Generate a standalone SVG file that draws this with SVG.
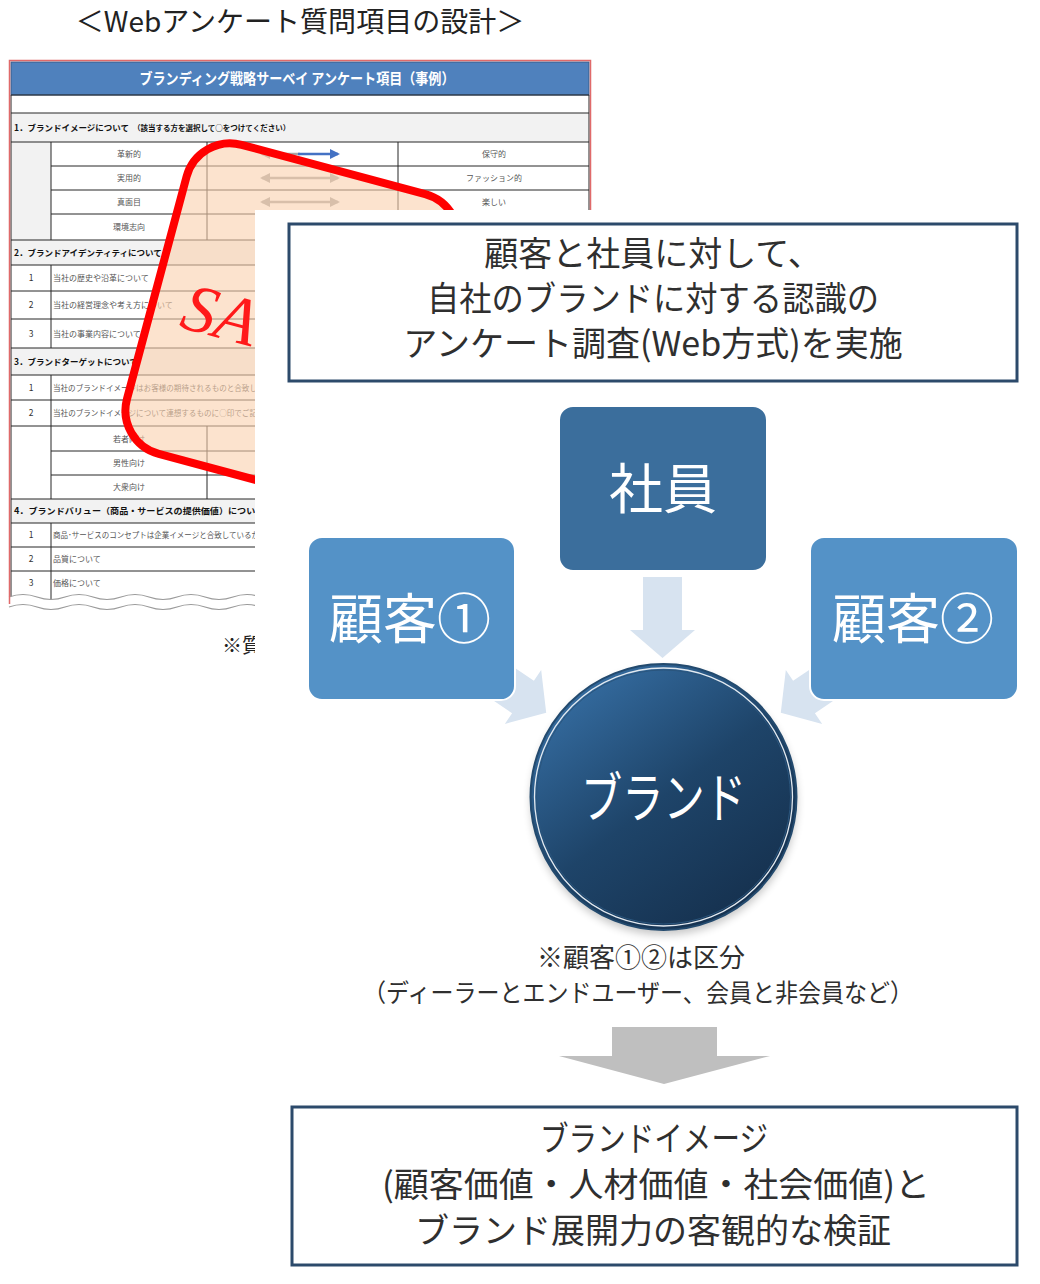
<svg xmlns="http://www.w3.org/2000/svg" width="1040" height="1284" viewBox="0 0 1040 1284">
<defs>
<style>
.jp{font-family:'Noto Sans CJK JP','Noto Sans CJK SC',sans-serif}
.tl{stroke:#262626;stroke-width:1;fill:none}
.sec{fill:#F2F2F2}
.sh{font-size:8.5px;font-weight:bold;fill:#111}
.it{font-size:8px;fill:#555}
.num{font-size:8.5px;fill:#333;text-anchor:middle}
.lbl{font-size:8px;fill:#555;text-anchor:middle}
.box{fill:#fff;stroke:#2C4A6B;stroke-width:3}
.bt{font-size:34px;fill:#2f2f2f;text-anchor:middle}
.nt{font-size:54px;fill:#fff;text-anchor:middle}
.la{fill:#D7E3F0}
</style>
<marker id="hg" viewBox="0 0 10 10" refX="8" refY="5" markerWidth="4" markerHeight="4" orient="auto-start-reverse"><path d="M0,0 L10,5 L0,10 z" fill="#A6A6A6"/></marker>
<marker id="hb" viewBox="0 0 10 10" refX="8" refY="5" markerWidth="4" markerHeight="4" orient="auto-start-reverse"><path d="M0,0 L10,5 L0,10 z" fill="#4472C4"/></marker>
<linearGradient id="cg" x1="0.2" y1="0.1" x2="0.8" y2="0.9">
<stop offset="0" stop-color="#33699C"/>
<stop offset="0.5" stop-color="#1E4469"/>
<stop offset="1" stop-color="#163250"/>
</linearGradient>
<filter id="blur" x="-20%" y="-20%" width="140%" height="140%"><feGaussianBlur stdDeviation="4"/></filter>
<polygon id="la" points="-53,-19.5 0,-19.5 0,-32.5 28,0 0,32.5 0,19.5 -53,19.5"/>
</defs>

<text class="jp" x="300" y="32" font-size="28" fill="#222" text-anchor="middle">＜Webアンケート質問項目の設計＞</text>

<g id="survey-sample">
<rect x="9" y="60" width="582" height="548" fill="#fff"/>
<rect x="11" y="62" width="578" height="33" fill="#4F81BD" stroke="#385D8A" stroke-width="1"/>
<text class="jp" x="297" y="84" font-size="15" font-weight="bold" fill="#fff" text-anchor="middle" textLength="315" lengthAdjust="spacingAndGlyphs">ブランディング戦略サーベイ アンケート項目（事例）</text>
<rect class="sec" x="11" y="113" width="578" height="29"/>
<rect class="sec" x="11" y="142" width="40" height="98"/>
<rect class="sec" x="11" y="240" width="578" height="25"/>
<rect class="sec" x="11" y="348" width="578" height="27"/>
<rect class="sec" x="11" y="499" width="578" height="24"/>
<path class="tl" d="M11 95H589 M11 113H589 M11 142H589 M51 166H589 M51 190H589 M51 214H589 M11 240H589 M11 265H589 M11 291H589 M11 319H589 M11 348H589 M11 375H589 M11 400H589 M11 426H589 M51 451H589 M51 475H589 M11 499H589 M11 523H589 M11 547H589 M11 571H589"/>
<path class="tl" d="M11 95V600 M589 95V600 M51 142V240 M207 142V240 M398 142V240 M51 265V348 M51 375V426 M51 426V499 M207 426V499 M398 426V499 M51 523V600"/>
<text class="jp sh" x="14" y="131">1．ブランドイメージについて<tspan font-size="7.5px" dx="4">（該当する方を選択して○をつけてください）</tspan></text>
<text class="jp lbl" x="129" y="157">革新的</text>
<text class="jp lbl" x="129" y="181">実用的</text>
<text class="jp lbl" x="129" y="205">真面目</text>
<text class="jp lbl" x="129" y="230">環境志向</text>
<text class="jp lbl" x="494" y="157">保守的</text>
<text class="jp lbl" x="494" y="181">ファッション的</text>
<text class="jp lbl" x="494" y="205">楽しい</text>
<line x1="262" y1="154" x2="300" y2="154" stroke="#A6A6A6" stroke-width="2.5" marker-start="url(#hg)"/>
<line x1="298" y1="154" x2="338" y2="154" stroke="#4472C4" stroke-width="2.5" marker-end="url(#hb)"/>
<line x1="262" y1="178" x2="338" y2="178" stroke="#A6A6A6" stroke-width="2.5" marker-start="url(#hg)" marker-end="url(#hg)"/>
<line x1="262" y1="202" x2="338" y2="202" stroke="#A6A6A6" stroke-width="2.5" marker-start="url(#hg)" marker-end="url(#hg)"/>
<text class="jp sh" x="14" y="256">2．ブランドアイデンティティについて</text>
<text class="jp num" x="31" y="281">1</text>
<text class="jp it" x="53" y="281">当社の歴史や沿革について</text>
<text class="jp num" x="31" y="308">2</text>
<text class="jp it" x="53" y="308">当社の経営理念や考え方について</text>
<text class="jp num" x="31" y="337">3</text>
<text class="jp it" x="53" y="337">当社の事業内容について</text>
<text class="jp sh" x="14" y="365">3．ブランドターゲットについて</text>
<text class="jp num" x="31" y="391">1</text>
<text class="jp it" x="53" y="391" textLength="204" lengthAdjust="spacingAndGlyphs">当社のブランドイメージはお客様の期待されるものと合致し</text>
<text class="jp num" x="31" y="416">2</text>
<text class="jp it" x="53" y="416" textLength="204" lengthAdjust="spacingAndGlyphs">当社のブランドイメージについて連想するものに○印でご記</text>
<text class="jp lbl" x="129" y="442">若者向け</text>
<text class="jp lbl" x="129" y="466">男性向け</text>
<text class="jp lbl" x="129" y="490">大衆向け</text>
<text class="jp sh" x="14" y="514" textLength="250" lengthAdjust="spacingAndGlyphs">4．ブランドバリュー（商品・サービスの提供価値）について</text>
<text class="jp num" x="31" y="538">1</text>
<text class="jp it" x="53" y="538" textLength="206" lengthAdjust="spacingAndGlyphs">商品･サービスのコンセプトは企業イメージと合致しているか</text>
<text class="jp num" x="31" y="562">2</text>
<text class="jp it" x="53" y="562">品質について</text>
<text class="jp num" x="31" y="586">3</text>
<text class="jp it" x="53" y="586">価格について</text>
<path d="M9 597 Q23 592 37 597 T65 597 T93 597 T121 597 T149 597 T177 597 T205 597 T233 597 T261 597 T289 597 L289 620 L9 620 Z" fill="#fff"/>
<path d="M9 597 Q23 592 37 597 T65 597 T93 597 T121 597 T149 597 T177 597 T205 597 T233 597 T261 597 T289 597" fill="none" stroke="#9a9a9a" stroke-width="1.2"/>
<path d="M9 607 Q23 602 37 607 T65 607 T93 607 T121 607 T149 607 T177 607 T205 607 T233 607 T261 607 T289 607" fill="none" stroke="#9a9a9a" stroke-width="1.2"/>
<path d="M9.5 604 V60.5 H590.5 V604" fill="none" stroke="#E06A6A" stroke-width="1.5"/>
<rect x="-140" y="-160" width="280" height="320" rx="45" transform="translate(292,324) rotate(15)" fill="#FAD0AE" fill-opacity="0.6" stroke="#FF0000" stroke-width="8"/>
<text x="178" y="327" transform="rotate(15 178 327)" font-family="'Liberation Serif',serif" font-style="italic" font-size="68" fill="#FF1A1A">SA</text>
<text class="jp" x="222" y="653" font-size="20" fill="#222">※質</text>
</g>

<rect x="255" y="210" width="785" height="1074" fill="#fff"/>

<g id="connectors">
<use href="#la" class="la" transform="translate(662.5,630) rotate(90)"/>
<use href="#la" class="la" transform="translate(523,697) rotate(34)"/>
<use href="#la" class="la" transform="translate(804,697) rotate(146)"/>
<polygon points="612,1027 717,1027 717,1056 770,1056 664,1084 559,1056 612,1056" fill="#BFBFBF"/>
</g>

<g id="survey-box">
<rect class="box" x="289" y="224" width="728" height="157"/>
<text class="jp bt" x="653" y="266">顧客と社員に対して、</text>
<text class="jp bt" x="653" y="311" textLength="452" lengthAdjust="spacingAndGlyphs">自社のブランドに対する認識の</text>
<text class="jp bt" x="653" y="356">アンケート調査(Web方式)を実施</text>
</g>

<g id="node-shain">
<rect x="559" y="406" width="208" height="165" rx="14" fill="#3B6E9C" stroke="#fff" stroke-width="2"/>
<text class="jp nt" x="663" y="509">社員</text>
</g>

<g id="node-kokyaku1">
<rect x="308" y="537" width="207" height="163" rx="14" fill="#5492C7" stroke="#fff" stroke-width="2"/>
<text class="jp nt" x="410" y="639">顧客①</text>
</g>

<g id="node-kokyaku2">
<rect x="810" y="537" width="208" height="163" rx="14" fill="#5492C7" stroke="#fff" stroke-width="2"/>
<text class="jp nt" x="913" y="639">顧客②</text>
</g>

<g id="node-brand">
<circle cx="664" cy="802" r="133" fill="#000" opacity="0.22" filter="url(#blur)"/>
<circle cx="663.5" cy="797" r="133" fill="url(#cg)" stroke="#234A6E" stroke-width="2"/>
<circle cx="663.5" cy="797" r="129" fill="none" stroke="#E3EAF1" stroke-width="1.3"/>
<circle cx="663.5" cy="797" r="127" fill="none" stroke="#2A557D" stroke-width="1"/>
<text class="jp nt" x="663.5" y="818" textLength="165" lengthAdjust="spacingAndGlyphs">ブランド</text>
</g>

<g id="note">
<text class="jp" x="641" y="967" font-size="26" fill="#2f2f2f" text-anchor="middle">※顧客①②は区分</text>
<text class="jp" x="638" y="1002" font-size="25" fill="#2f2f2f" text-anchor="middle" textLength="550" lengthAdjust="spacingAndGlyphs">（ディーラーとエンドユーザー、会員と非会員など）</text>
</g>

<g id="result-box">
<rect class="box" x="292" y="1107" width="725" height="158"/>
<text class="jp bt" x="654" y="1151" textLength="228" lengthAdjust="spacingAndGlyphs">ブランドイメージ</text>
<text class="jp bt" x="656" y="1197" font-size="33" textLength="548" lengthAdjust="spacingAndGlyphs">(顧客価値・人材価値・社会価値)と</text>
<text class="jp bt" x="653" y="1243">ブランド展開力の客観的な検証</text>
</g>
</svg>
